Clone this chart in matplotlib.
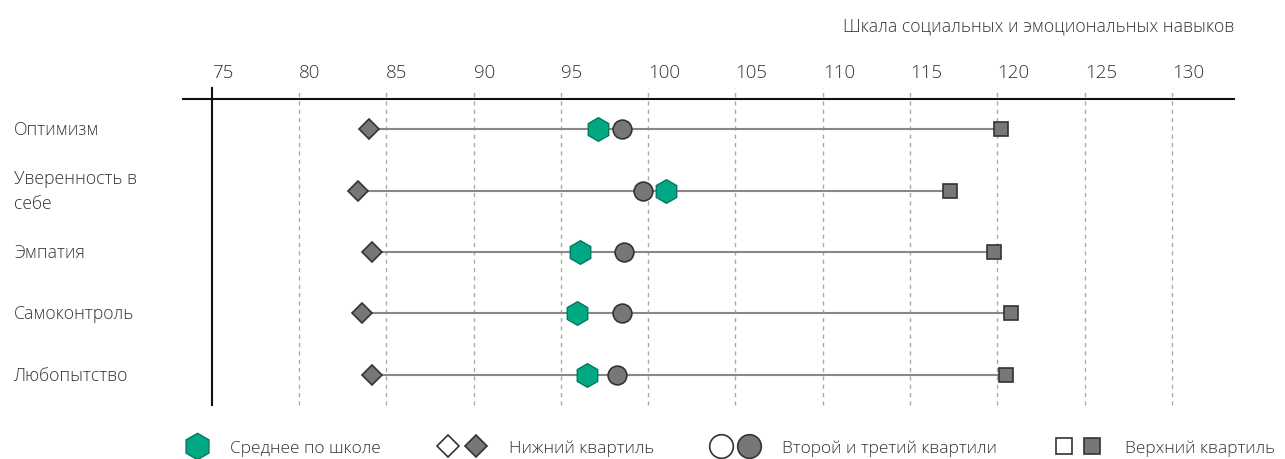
import matplotlib
matplotlib.use("Agg")
import matplotlib.pyplot as plt
from matplotlib.lines import Line2D
from matplotlib.legend_handler import HandlerTuple
from matplotlib.transforms import blended_transform_factory

plt.rcParams['font.family'] = ['Open Sans', 'DejaVu Sans']
plt.rcParams['font.weight'] = 'light'

# data
skills = ["Оптимизм", "Уверенность в\nсебе", "Эмпатия", "Самоконтроль", "Любопытство"]
lower_q = [84.0, 83.4, 84.2, 83.6, 84.2]
school_mean = [97.1, 101.0, 96.1, 95.9, 96.5]
median_q = [98.5, 99.7, 98.6, 98.5, 98.2]
upper_q = [120.2, 117.3, 119.8, 120.8, 120.5]
ticks = [75, 80, 85, 90, 95, 100, 105, 110, 115, 120, 125, 130]
legend_labels = ["Среднее по школе", "Нижний квартиль", "Второй и третий квартили", "Верхний квартиль"]

green = "#00a884"
green_edge = "#007a5f"
grey = "#777777"
dark = "#333333"
text_col = "#333333"

fig = plt.figure(figsize=(12.85, 4.6), dpi=100)
ax = fig.add_axes([0.1424, 0.1174, 0.8179, 0.6652])
ax.set_xlim(73.36, 133.55)
ax.set_ylim(4.49, -0.49)

# dotted grid + solid line at 75
for t in ticks[1:]:
    ax.axvline(t, ymin=0, ymax=1.036, color="#aaaaaa", lw=1, ls=(0, (3, 3)),
               clip_on=False, zorder=0)
ax.axvline(ticks[0], ymin=0, ymax=1.036, color="#111111", lw=1.5, clip_on=False, zorder=1)
for t in ticks:
    ax.text(t, 1.088, str(t), transform=ax.get_xaxis_transform(), ha="left", va="center",
            fontsize=13.5, color=text_col)

ax.text(1.0, 1.24, "Шкала социальных и эмоциональных навыков", transform=ax.transAxes,
        ha="right", va="center", fontsize=12.7, color=text_col)

rows = list(range(len(skills)))
for i in rows:
    ax.plot([lower_q[i], upper_q[i]], [i, i], color="#888888", lw=1.5, zorder=2)

ax.plot(lower_q, rows, ls="none", marker="D", ms=9.7, mfc=grey, mec=dark, mew=1.2, zorder=3)
ax.plot(upper_q, rows, ls="none", marker="s", ms=10, mfc=grey, mec=dark, mew=1.2, zorder=3)
ax.plot(median_q, rows, ls="none", marker="o", ms=13.5, mfc=grey, mec=dark, mew=1.2, zorder=4)
ax.plot(school_mean, rows, ls="none", marker="h", ms=17, mfc=green, mec=green_edge, mew=1,
        zorder=5)

# row labels at the left edge of the figure
lab_tr = blended_transform_factory(fig.transFigure, ax.transData)
for i, name in enumerate(skills):
    ax.text(14 / 1285, i, name, transform=lab_tr, ha="left", va="center",
            fontsize=12.7, color=text_col, linespacing=1.5)

for s in ["left", "right", "bottom"]:
    ax.spines[s].set_visible(False)
ax.spines["top"].set_color("#111111")
ax.spines["top"].set_linewidth(1.5)
ax.set_xticks([])
ax.set_yticks([])

# legend
def mk(marker, ms, fc, ec, mew=1.2):
    return Line2D([], [], ls="none", marker=marker, ms=ms, mfc=fc, mec=ec, mew=mew)

blank = Line2D([], [], ls="none")
handles = [
    (blank, mk("h", 19, green, green_edge, 1)),
    (mk("D", 11, "white", dark), mk("D", 11, grey, dark)),
    (mk("o", 17, "white", dark), mk("o", 17, grey, dark)),
    (mk("s", 12, "white", dark), mk("s", 12, grey, dark)),
]
fig.legend(handles, legend_labels, ncol=4, loc="center left",
           bbox_to_anchor=(143 / 1285, 1 - 449 / 460),
           frameon=False, fontsize=12.5, handlelength=2.76, handletextpad=1.33, columnspacing=3.3,
           handler_map={tuple: HandlerTuple(ndivide=None, pad=0.46)}, labelcolor=text_col)

fig.savefig("out.png", dpi=100)
